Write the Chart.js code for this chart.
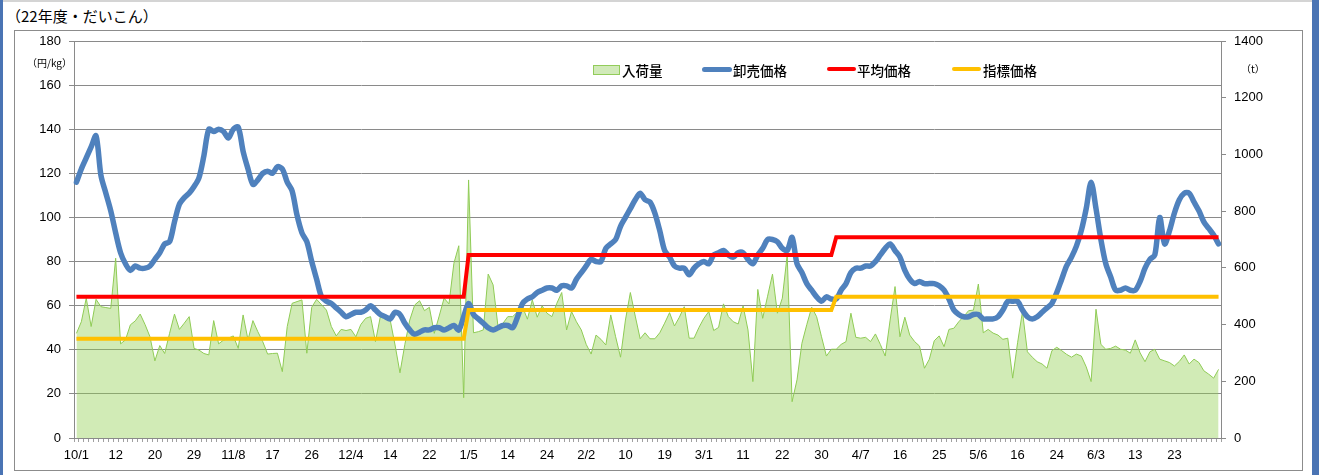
<!DOCTYPE html>
<html lang="ja">
<head>
<meta charset="utf-8">
<title>22年度・だいこん</title>
<script src="https://cdn.jsdelivr.net/npm/chart.js@4.4.1/dist/chart.umd.min.js"></script>
<style>
  html, body { margin: 0; padding: 0; background: #fff; }
  body { width: 1319px; height: 475px; position: relative; overflow: hidden; font-family: "Noto Sans CJK JP", sans-serif; color: #000; }
  #topline { position: absolute; left: 0; top: 0; width: 1319px; height: 2px; background: #d4d4d4; }
  #barL { position: absolute; left: 0; top: 0; width: 3px; height: 475px; background: #4a74b4; }
  #barR { position: absolute; left: 1312px; top: 0; width: 7px; height: 475px; background: #4a74b4; }
  #frame { position: absolute; left: 14px; top: 30px; width: 1287px; height: 439px; border: 1px solid #8c8c8c; }
  #title { position: absolute; left: 6px; top: 5px; font-size: 15px; }
  #chart { position: absolute; left: 0; top: 0; }
  .unit { position: absolute; font-size: 10px; }
  .leg { position: absolute; top: 60px; font-size: 13.5px; font-weight: 500; line-height: 20px; }
  .sw { position: absolute; }
</style>
</head>
<body>
<div id="topline"></div>
<div id="barL"></div>
<div id="barR"></div>
<div id="frame"></div>
<div id="title">（22年度・だいこん）</div>
<canvas id="chart" width="1319" height="475"></canvas>
<div class="unit" style="left:27px; top:55px;">（円/kg）</div>
<div class="unit" style="left:1241px; top:61px;">（t）</div>

<div class="sw" style="left:593px; top:65px; width:25px; height:8px; background:#d1eab9; border:1px solid #92cc5a;"></div>
<div class="leg" style="left:622px;">入荷量</div>
<div class="sw" style="left:702px; top:67px; width:30px; height:5px; background:#4f81bd; border-radius:3px;"></div>
<div class="leg" style="left:733px;">卸売価格</div>
<div class="sw" style="left:827px; top:67px; width:29px; height:4px; background:#ff0000; border-radius:2px;"></div>
<div class="leg" style="left:857px;">平均価格</div>
<div class="sw" style="left:952px; top:67px; width:29px; height:4px; background:#ffc000; border-radius:2px;"></div>
<div class="leg" style="left:983px;">指標価格</div>

<script>
// 目盛りラベル (8市場日ごと)
const tickLabels = ['10/1', '12', '20', '29', '11/8', '17', '26', '12/4', '14', '22',
    '1/5', '14', '24', '2/2', '10', '19', '3/1', '11', '22', '30',
    '4/7', '16', '25', '5/6', '16', '24', '6/3', '13', '23'];

// 入荷量 (t)
const volume = [
    369, 410, 493, 393, 489, 463, 460, 457, 634, 332,
    346, 399, 413, 437, 400, 357, 272, 326, 298, 369,
    437, 383, 405, 428, 316, 310, 298, 293, 414, 332,
    345, 352, 360, 316, 434, 346, 414, 375, 340, 296,
    298, 299, 234, 393, 475, 481, 487, 299, 461, 489,
    470, 451, 393, 360, 383, 379, 383, 357, 400, 422,
    428, 340, 428, 420, 416, 328, 230, 330, 416, 469,
    484, 449, 461, 369, 430, 493, 473, 616, 678, 142,
    910, 371, 375, 381, 578, 540, 393, 404, 428, 428,
    445, 463, 419, 487, 426, 466, 440, 428, 475, 513,
    381, 446, 410, 381, 330, 296, 363, 348, 328, 434,
    357, 285, 416, 513, 430, 350, 371, 350, 350, 371,
    405, 442, 395, 426, 463, 352, 352, 390, 422, 446,
    379, 390, 473, 428, 410, 402, 466, 381, 199, 524,
    422, 500, 578, 440, 493, 645, 128, 205, 334, 400,
    461, 428, 357, 289, 313, 313, 330, 340, 440, 355,
    352, 355, 340, 367, 330, 289, 416, 534, 357, 426,
    363, 340, 324, 246, 278, 343, 360, 322, 383, 387,
    410, 428, 449, 451, 543, 371, 383, 370, 363, 348,
    352, 211, 336, 446, 304, 285, 269, 261, 246, 308,
    320, 308, 295, 285, 296, 289, 251, 199, 454, 330,
    313, 316, 324, 313, 310, 299, 346, 300, 269, 304,
    313, 278, 272, 266, 254, 270, 293, 261, 278, 266,
    237, 225, 211, 242
];

// 卸売価格 (円/kg)
const wholesalePrice = [
    116, 122, 127, 132, 137, 119, 111, 103, 93, 84,
    79, 76, 78, 77, 77, 78, 81, 84, 88, 89,
    98, 106, 109, 111, 114, 118, 128, 140, 139, 140,
    139, 136, 140, 141, 130, 122, 115, 117, 120, 121,
    120, 123, 122, 116, 112, 101, 93, 89, 80, 72,
    64, 62, 61, 59, 57, 55, 56, 57, 57, 58,
    60, 58, 56, 55, 54, 57, 56, 52, 49, 47,
    48, 49, 49, 50, 50, 49, 50, 51, 49, 55,
    61, 56, 54, 52, 50, 49, 50, 51, 51, 50,
    55, 61, 63, 64, 66, 67, 68, 68, 67, 69,
    69, 68, 72, 75, 78, 81, 80, 80, 86, 88,
    90, 96, 100, 104, 108, 111, 108, 107, 102, 94,
    85, 82, 78, 77, 77, 74, 77, 79, 80, 79,
    83, 84, 85, 83, 82, 84, 84, 81, 79, 83,
    86, 90, 90, 89, 86, 85, 91, 79, 75, 70,
    67, 64, 62, 64, 63, 63, 67, 70, 75, 77,
    77, 78, 78, 80, 83, 86, 88, 85, 82, 76,
    72, 70, 71, 70, 70, 70, 69, 67, 63, 58,
    56, 55, 55, 56, 56, 54, 54, 54, 55, 58,
    62, 62, 62, 58, 55, 54, 55, 57, 59, 61,
    66, 72, 78, 82, 87, 94, 104, 116, 104, 90,
    79, 73, 67, 67, 68, 67, 67, 71, 77, 81,
    83, 100, 88, 94, 102, 108, 111, 111, 107, 103,
    98, 95, 92, 88
];

// 平均価格 (円/kg)
const averagePrice = [
    64, 64, 64, 64, 64, 64, 64, 64, 64, 64, 64, 64, 64, 64, 64, 64, 64, 64, 64, 64,
    64, 64, 64, 64, 64, 64, 64, 64, 64, 64, 64, 64, 64, 64, 64, 64, 64, 64, 64, 64,
    64, 64, 64, 64, 64, 64, 64, 64, 64, 64, 64, 64, 64, 64, 64, 64, 64, 64, 64, 64,
    64, 64, 64, 64, 64, 64, 64, 64, 64, 64, 64, 64, 64, 64, 64, 64, 64, 64, 64, 64,
    83, 83, 83, 83, 83, 83, 83, 83, 83, 83, 83, 83, 83, 83, 83, 83, 83, 83, 83, 83,
    83, 83, 83, 83, 83, 83, 83, 83, 83, 83, 83, 83, 83, 83, 83, 83, 83, 83, 83, 83,
    83, 83, 83, 83, 83, 83, 83, 83, 83, 83, 83, 83, 83, 83, 83, 83, 83, 83, 83, 83,
    83, 83, 83, 83, 83, 83, 83, 83, 83, 83, 83, 83, 83, 83, 83,
    91, 91, 91, 91, 91, 91, 91, 91, 91, 91, 91, 91, 91, 91, 91, 91, 91, 91, 91, 91,
    91, 91, 91, 91, 91, 91, 91, 91, 91, 91, 91, 91, 91, 91, 91, 91, 91, 91, 91, 91,
    91, 91, 91, 91, 91, 91, 91, 91, 91, 91, 91, 91, 91, 91, 91, 91, 91, 91, 91, 91,
    91, 91, 91, 91, 91, 91, 91, 91, 91, 91, 91, 91, 91, 91, 91, 91, 91, 91, 91
];

// 指標価格 (円/kg)
const targetPrice = [
    45, 45, 45, 45, 45, 45, 45, 45, 45, 45, 45, 45, 45, 45, 45, 45, 45, 45, 45, 45,
    45, 45, 45, 45, 45, 45, 45, 45, 45, 45, 45, 45, 45, 45, 45, 45, 45, 45, 45, 45,
    45, 45, 45, 45, 45, 45, 45, 45, 45, 45, 45, 45, 45, 45, 45, 45, 45, 45, 45, 45,
    45, 45, 45, 45, 45, 45, 45, 45, 45, 45, 45, 45, 45, 45, 45, 45, 45, 45, 45, 45,
    58, 58, 58, 58, 58, 58, 58, 58, 58, 58, 58, 58, 58, 58, 58, 58, 58, 58, 58, 58,
    58, 58, 58, 58, 58, 58, 58, 58, 58, 58, 58, 58, 58, 58, 58, 58, 58, 58, 58, 58,
    58, 58, 58, 58, 58, 58, 58, 58, 58, 58, 58, 58, 58, 58, 58, 58, 58, 58, 58, 58,
    58, 58, 58, 58, 58, 58, 58, 58, 58, 58, 58, 58, 58, 58, 58,
    64, 64, 64, 64, 64, 64, 64, 64, 64, 64, 64, 64, 64, 64, 64, 64, 64, 64, 64, 64,
    64, 64, 64, 64, 64, 64, 64, 64, 64, 64, 64, 64, 64, 64, 64, 64, 64, 64, 64, 64,
    64, 64, 64, 64, 64, 64, 64, 64, 64, 64, 64, 64, 64, 64, 64, 64, 64, 64, 64, 64,
    64, 64, 64, 64, 64, 64, 64, 64, 64, 64, 64, 64, 64, 64, 64, 64, 64, 64, 64
];

// カテゴリ (ラベルは8日ごとだけ表示)
const labels = volume.map((_, i) => (i % 8 === 0 ? (tickLabels[i / 8] || '') : ''));

const gridGray = '#8a8a8a';
const tickFont = { family: '"Liberation Sans", sans-serif', size: 13 };

const ctx = document.getElementById('chart').getContext('2d');
const chart = new Chart(ctx, {
    type: 'line',
    data: {
        labels: labels,
        datasets: [
            {
                label: '指標価格',
                data: targetPrice,
                yAxisID: 'y',
                borderColor: '#ffc000',
                borderWidth: 4,
                pointRadius: 0,
                tension: 0,
                order: 1
            },
            {
                label: '平均価格',
                data: averagePrice,
                yAxisID: 'y',
                borderColor: '#ff0000',
                borderWidth: 4,
                pointRadius: 0,
                tension: 0,
                order: 2
            },
            {
                label: '卸売価格',
                data: wholesalePrice,
                yAxisID: 'y',
                borderColor: '#4f81bd',
                borderWidth: 5.5,
                borderCapStyle: 'round',
                borderJoinStyle: 'round',
                pointRadius: 0,
                tension: 0.3,
                order: 3
            },
            {
                label: '入荷量',
                data: volume,
                yAxisID: 'y1',
                fill: 'origin',
                backgroundColor: 'rgba(146, 208, 80, 0.42)',
                borderColor: '#8fcb55',
                borderWidth: 1,
                pointRadius: 0,
                tension: 0,
                order: 4
            }
        ]
    },
    options: {
        responsive: false,
        animation: false,
        devicePixelRatio: 1,
        layout: { padding: { top: 41, left: 0, right: 0, bottom: 0 } },
        plugins: {
            legend: { display: false },
            tooltip: { enabled: false }
        },
        scales: {
            x: {
                type: 'category',
                offset: true,
                afterFit: (s) => { s.height = 37; },
                grid: { drawOnChartArea: false, offset: true, tickLength: 4, color: '#a0a0a0' },
                border: { color: gridGray },
                ticks: { autoSkip: false, maxRotation: 0, minRotation: 0, padding: 6, color: '#000', font: tickFont }
            },
            y: {
                position: 'left',
                min: 0,
                max: 180,
                afterFit: (s) => { s.width = 74; },
                grid: { color: gridGray, tickLength: 5 },
                border: { color: gridGray },
                ticks: { stepSize: 20, padding: 8, color: '#000', font: tickFont }
            },
            y1: {
                position: 'right',
                min: 0,
                max: 1400,
                afterFit: (s) => { s.width = 98; },
                grid: { drawOnChartArea: false, color: gridGray, tickLength: 5 },
                border: { color: gridGray },
                ticks: { stepSize: 200, padding: 8, color: '#000', font: tickFont, callback: (v) => String(v) }
            }
        }
    }
});
</script>
</body>
</html>
